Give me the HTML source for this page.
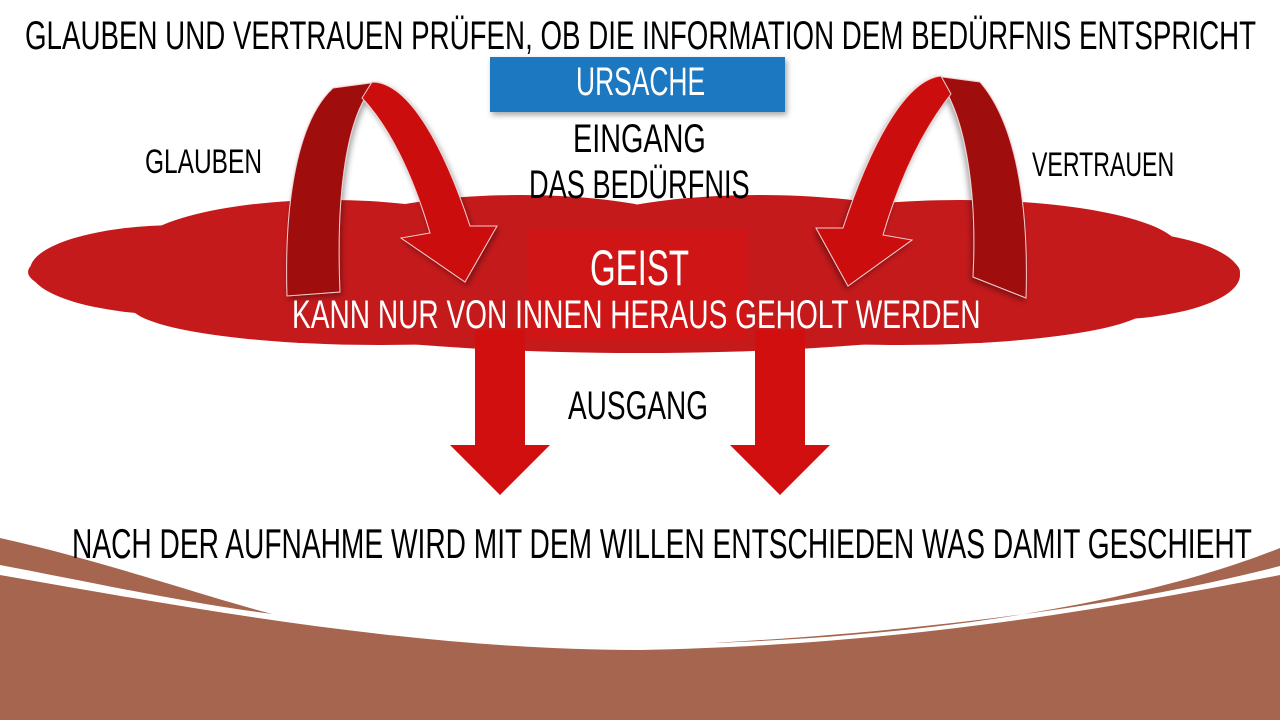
<!DOCTYPE html>
<html><head><meta charset="utf-8"><style>
html,body{margin:0;padding:0;background:#fff;}
body{width:1280px;height:720px;position:relative;overflow:hidden;font-family:"Liberation Sans",sans-serif;}
.t{position:absolute;white-space:nowrap;transform-origin:0 0;color:#000;}
</style></head><body>
<svg width="1280" height="720" style="position:absolute;left:0;top:0">
<defs>
<filter id="sh" x="-10%" y="-10%" width="130%" height="130%"><feDropShadow dx="2" dy="3" stdDeviation="3" flood-opacity="0.35"/></filter>
</defs>
<!-- bottom brown -->
<path d="M0,575 C200,610 420,650 640,650 C900,645 1100,610 1280,575 L1280,720 L0,720 Z" fill="#a5654e"/>
<path d="M0,538 C100,560 200,595 272,614 C180,602 80,580 0,565 Z" fill="#a5654e"/>
<path d="M1280,548 C1150,600 950,635 712,643 C950,630 1150,600 1280,566 Z" fill="#a5654e"/>
<!-- cloud -->
<g fill="#c41a1c">
<ellipse cx="180" cy="270" rx="150" ry="45"/>
<ellipse cx="330" cy="255" rx="200" ry="55"/>
<ellipse cx="520" cy="245" rx="200" ry="50"/>
<ellipse cx="640" cy="295" rx="430" ry="58"/>
<ellipse cx="760" cy="240" rx="200" ry="45"/>
<ellipse cx="960" cy="250" rx="220" ry="50"/>
<ellipse cx="1100" cy="275" rx="140" ry="45"/>
<ellipse cx="380" cy="305" rx="250" ry="40"/>
<ellipse cx="900" cy="305" rx="250" ry="40"/>
<ellipse cx="120" cy="272" rx="92" ry="25"/>
<ellipse cx="1160" cy="272" rx="80" ry="25"/>
</g>
<rect x="527" y="230" width="221" height="110" fill="#cf1515"/>
<!-- down arrows -->
<g fill="#d10f0f">
<path d="M475,330 H525 V445 H550 L500,495 L450,445 H475 Z"/>
<path d="M755,330 H805 V445 H830 L780,495 L730,445 H755 Z"/>
</g>
<!-- curved arrows -->
<g filter="url(#sh)">
<path d="M287,296 C284,200 298,120 333,88 L378,82 C345,110 336,200 340,292 Z" fill="#a00a0c" stroke="#f3d0d0" stroke-width="1"/>
<path d="M372,82 C410,82 445,150 470,226 L497,226 L465,282 L401,238 L430,233 C412,172 388,125 362,98 Z" fill="#cc0a0a" stroke="#f3d0d0" stroke-width="1"/>
</g>
<g transform="matrix(-1,0,0,1,1313,2)" filter="url(#sh)">
<path d="M287,296 C284,200 298,120 333,80 L378,74 C345,110 336,200 340,275 Z" fill="#a00a0c" stroke="#f3d0d0" stroke-width="1"/>
<path d="M372,74 C410,78 445,150 470,226 L497,226 L465,284 L401,238 L430,233 C412,172 388,125 362,92 Z" fill="#cc0a0a" stroke="#f3d0d0" stroke-width="1"/>
</g>
<rect x="490" y="57" width="295" height="55" fill="#1f78c1" filter="url(#sh)"/>
</svg>
<div class="t" style="left:25px;top:14px;font-size:40px;transform:scale(0.693,1)">GLAUBEN UND VERTRAUEN PRÜFEN, OB DIE INFORMATION DEM BEDÜRFNIS ENTSPRICHT</div>
<div class="t" style="left:576px;top:60px;font-size:40px;color:#fff;transform:scale(0.66,1)">URSACHE</div>
<div class="t" style="left:573px;top:117px;font-size:40px;transform:scale(0.72,1)">EINGANG</div>
<div class="t" style="left:529px;top:163px;font-size:40px;transform:scale(0.68,1)">DAS BEDÜRFNIS</div>
<div class="t" style="left:145px;top:143px;font-size:34px;transform:scale(0.72,1)">GLAUBEN</div>
<div class="t" style="left:1032px;top:146px;font-size:34px;transform:scale(0.68,1)">VERTRAUEN</div>
<div class="t" style="left:590px;top:239px;font-size:50px;color:#fff;transform:scale(0.66,1)">GEIST</div>
<div class="t" style="left:292px;top:293px;font-size:40px;color:#fff;transform:scale(0.702,1)">KANN NUR VON INNEN HERAUS GEHOLT WERDEN</div>
<div class="t" style="left:568px;top:384px;font-size:40px;transform:scale(0.70,1)">AUSGANG</div>
<div class="t" style="left:72px;top:520px;font-size:42px;transform:scale(0.670,1)">NACH DER AUFNAHME WIRD MIT DEM WILLEN ENTSCHIEDEN WAS DAMIT GESCHIEHT</div>
</body></html>
